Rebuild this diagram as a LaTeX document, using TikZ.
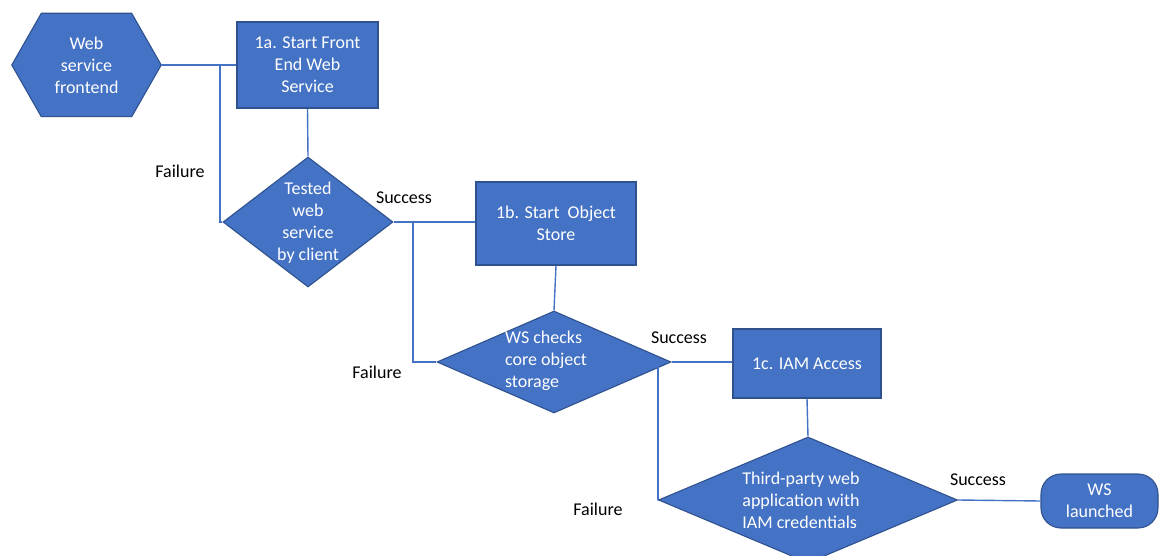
\documentclass[tikz,border=0pt]{standalone}
\usepackage{fontspec}
\setmainfont{Carlito}
\usetikzlibrary{shapes.geometric,backgrounds,calc}
\definecolor{boxfill}{HTML}{4472C4}
\definecolor{boxedge}{HTML}{2F528F}
\definecolor{linkc}{HTML}{4472C4}
\begin{document}
\begin{tikzpicture}[x=1pt,y=-1pt,
  txt/.style={text=white,font=\fontsize{18}{22}\selectfont,align=center,inner sep=0pt},
  lbl/.style={text=black,font=\fontsize{18}{22}\selectfont,inner sep=0pt},
  stepbox/.style={draw=boxedge,fill=boxfill,line width=1.1pt,text=white,
    font=\fontsize{18}{22}\selectfont,align=center,inner sep=0pt},
  decision/.style={diamond,draw=boxedge,fill=boxfill,line width=1.1pt,inner sep=0pt},
  link/.style={draw=linkc,line width=1.4pt}]
\useasboundingbox (0,0) rectangle (1160,556);
\clip (0,0) rectangle (1160,556);

% hexagon start
\node[txt,minimum width=149pt,minimum height=103pt] (hex) at (86.5,65) {Web\\service\\frontend};
\begin{scope}[on background layer]
\fill[white] (0,0) rectangle (1160,556);
\draw[draw=boxedge,fill=boxfill,line width=1.1pt]
  (hex.west) -- ($(hex.north west)+(29.5,0)$) -- ($(hex.north east)+(-29.5,0)$)
  -- (hex.east) -- ($(hex.south east)+(-29.5,0)$) -- ($(hex.south west)+(29.5,0)$) -- cycle;
\end{scope}

% boxes
\node[stepbox,minimum width=141pt,minimum height=86pt] (b1a) at (307.5,65) {1a. Start Front\\End Web\\Service};
\node[stepbox,minimum width=160pt,minimum height=83pt] (b1b) at (556,223.5) {1b. Start\ \ Object\\Store};
\node[stepbox,minimum width=148pt,minimum height=69pt] (b1c) at (807,363.5) {1c. IAM Access};
\node[stepbox,rounded corners=20pt,minimum width=117pt,minimum height=54pt] (ws) at (1099.5,501) {WS\\launched};

% decisions
\node[decision,minimum width=170pt,minimum height=130pt] (d1) at (308,222) {};
\node[txt] (d1t) at (308,223) {Tested\\web\\service\\by client};
\node[decision,minimum width=234pt,minimum height=102pt] (d2) at (554,362) {};
\node[txt,align=left] (d2t) at (546,361) {WS checks\\core object\\storage};
\node[decision,minimum width=299pt,minimum height=126pt] (d3) at (808,500) {};
\node[txt,align=left] (d3t) at (801,500) {Third-party web\\application with\\IAM credentials};

% failure return points
\coordinate (f1) at (220,65);
\coordinate (f2) at (413,222);
\coordinate (f3) at (658,362);

% connectors
\draw[link] (hex.east) -- (b1a.west);
\draw[link] (b1a.south) -- (d1.north);
\draw[link] (d1.west) -| (f1);
\draw[link] (d1.east) -- (d1.east -| b1b.west);
\draw[link] (b1b.south) -- (d2.north);
\draw[link] (d2.west) -| (f2);
\draw[link] (d2.east) -- (d2.east -| b1c.west);
\draw[link] (b1c.south) -- (d3.north);
\draw[link] (d3.west) -| (f3);
\draw[link] (d3.east) -- (ws.west);

% labels
\node[lbl] (l1) at (180,171) {Failure};
\node[lbl] (l2) at (404,198) {Success};
\node[lbl] (l3) at (377,372) {Failure};
\node[lbl] (l4) at (679,338) {Success};
\node[lbl] (l5) at (598,509) {Failure};
\node[lbl] (l6) at (978,480) {Success};
\end{tikzpicture}
\end{document}
